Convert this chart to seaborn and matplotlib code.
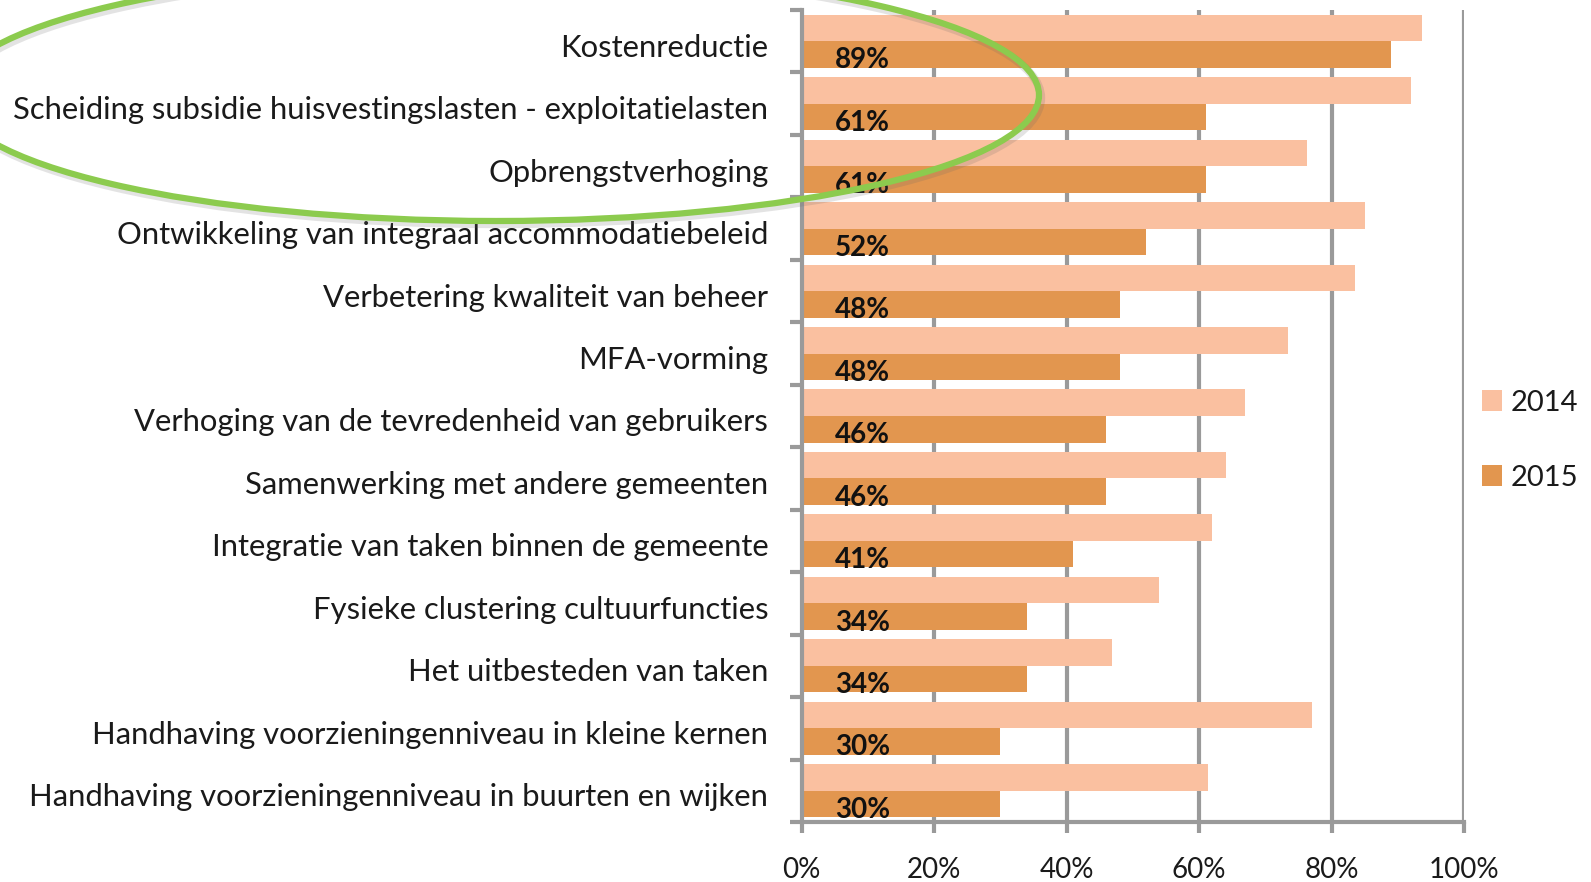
import matplotlib
matplotlib.use("Agg")
import matplotlib.pyplot as plt
from matplotlib.patches import Ellipse, Patch
from matplotlib.transforms import ScaledTranslation
import seaborn as sns
import pandas as pd
import numpy as np

categories = [
    "Kostenreductie",
    "Scheiding subsidie huisvestingslasten - exploitatielasten",
    "Opbrengstverhoging",
    "Ontwikkeling van integraal accommodatiebeleid",
    "Verbetering kwaliteit van beheer",
    "MFA-vorming",
    "Verhoging van de tevredenheid van gebruikers",
    "Samenwerking met andere gemeenten",
    "Integratie van taken binnen de gemeente",
    "Fysieke clustering cultuurfuncties",
    "Het uitbesteden van taken",
    "Handhaving voorzieningenniveau in kleine kernen",
    "Handhaving voorzieningenniveau in buurten en wijken",
]
values_2014 = [93.6, 92.0, 76.3, 85.0, 83.5, 73.5, 66.9, 64.0, 61.9, 53.9, 46.9, 77.0, 61.3]
values_2015 = [89, 61, 61, 52, 48, 48, 46, 46, 41, 34, 34, 30, 30]
series = ["2014", "2015"]
xticks = [0, 20, 40, 60, 80, 100]
xticklabels = ["0%", "20%", "40%", "60%", "80%", "100%"]

c2014 = "#FAC0A0"
c2015 = "#E2964F"
grid_c = "#9A9A9A"
text_c = "#1a1a1a"

df = pd.DataFrame({
    "cat": categories * 2,
    "val": values_2014 + values_2015,
    "year": [series[0]] * len(categories) + [series[1]] * len(categories),
})

sns.set_theme(style="white")
plt.rcParams["font.family"] = ["Lato", "DejaVu Sans"]

W, H = 1591, 882
fig = plt.figure(figsize=(W / 100, H / 100), dpi=100)
ax_top, ax_bot = 10, 822
ax = fig.add_axes([801.6 / W, 1 - ax_bot / H, (1464 - 801.6) / W, (ax_bot - ax_top) / H])

BW = 0.85
sns.barplot(data=df, y="cat", x="val", hue="year", order=categories,
            hue_order=series, palette=[c2014, c2015], orient="h",
            width=BW, ax=ax, legend=False, saturation=1, linewidth=0)

ax.set_xlim(0, 100)
ax.set_ylim(len(categories) - 0.5, -0.5)
ax.set_xticks(xticks)
ax.set_xticklabels(xticklabels, fontsize=20, color=text_c)
ax.set_xlabel("")
ax.set_ylabel("")
ax.set_yticks(range(len(categories)))
ax.set_yticklabels(categories, fontsize=22.3, color=text_c)
ax.tick_params(axis="y", which="major", length=0, pad=24)
ax.set_yticks(np.arange(-0.5, len(categories), 1), minor=True)
ax.tick_params(axis="y", which="minor", length=9, width=3, color=grid_c, left=True)
ax.tick_params(axis="x", which="major", length=8, width=3, color=grid_c, pad=17, bottom=True)
shift = ScaledTranslation(0, -4 / 100, fig.dpi_scale_trans)
for lab in ax.get_yticklabels():
    lab.set_transform(lab.get_transform() + shift)

for x in xticks[1:]:
    ax.axvline(x, color=grid_c, lw=3, zorder=0)
for s in ["top", "right"]:
    ax.spines[s].set_visible(False)
for s in ["left", "bottom"]:
    ax.spines[s].set_color(grid_c)
    ax.spines[s].set_linewidth(3)

for i, v in enumerate(values_2015):
    ax.text(5, i + BW / 2 + 0.01, f"{v}%", fontsize=20, fontweight="bold",
            color="#111111", va="baseline", ha="left", zorder=5)

handles = [Patch(facecolor=c2014, edgecolor="none"), Patch(facecolor=c2015, edgecolor="none")]
fig.legend(handles, series, loc="center left", bbox_to_anchor=(1467 / W, 1 - 440 / H),
           frameon=False, fontsize=21, handlelength=0.7, handleheight=0.7,
           handletextpad=0.3, labelspacing=1.68, borderpad=0, labelcolor=text_c)

# green highlight ellipse overlay
ov = fig.add_axes([0, 0, 1, 1], zorder=10)
ov.set_xlim(0, W)
ov.set_ylim(H, 0)
ov.axis("off")
ov.patch.set_alpha(0)
ov.add_patch(Ellipse((498, 98), 1086, 252, fill=False, edgecolor="#666666", lw=6, alpha=0.18))
ov.add_patch(Ellipse((496, 95), 1086, 252, fill=False, edgecolor="#8CCB4E", lw=4.5))

fig.savefig("out.png", dpi=100)
